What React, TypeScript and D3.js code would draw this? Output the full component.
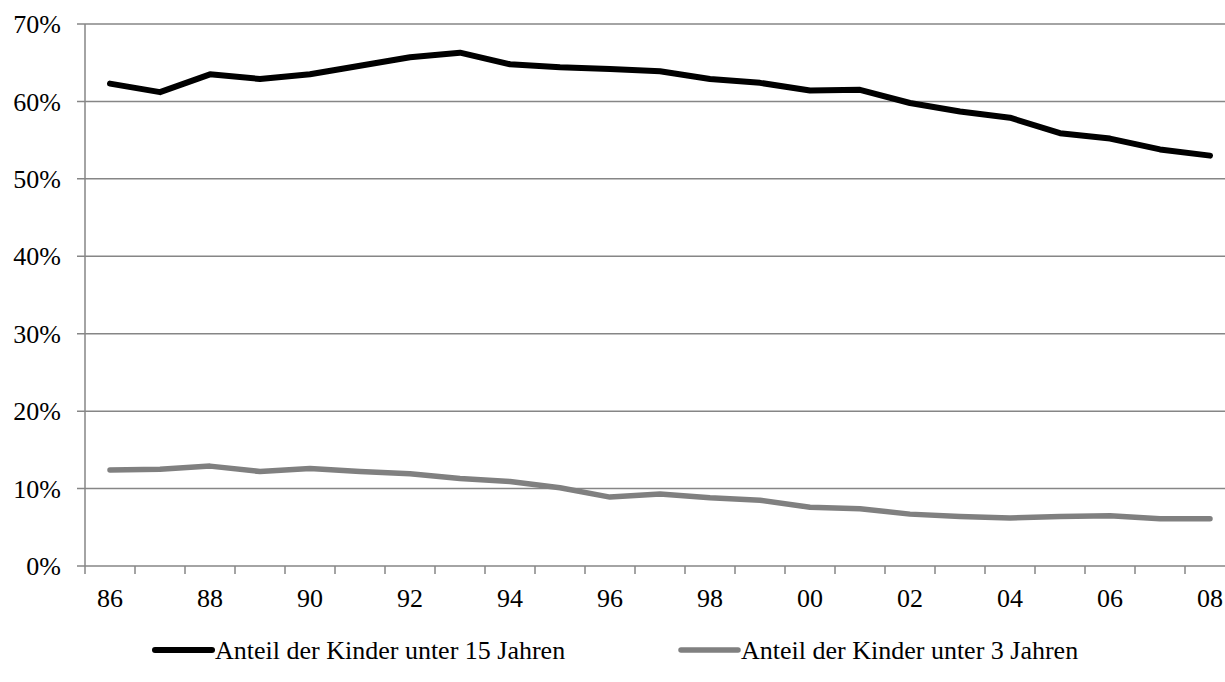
import React from "react";
import * as d3 from "d3";

const years = ["86","87","88","89","90","91","92","93","94","95","96","97","98","99","00","01","02","03","04","05","06","07","08"];
const under15 = [62.3, 61.2, 63.5, 62.9, 63.5, 64.6, 65.7, 66.3, 64.8, 64.4, 64.2, 63.9, 62.9, 62.4, 61.4, 61.5, 59.8, 58.7, 57.9, 55.9, 55.2, 53.8, 53.0];
const under3 = [12.4, 12.5, 12.9, 12.2, 12.6, 12.2, 11.9, 11.3, 10.9, 10.1, 8.9, 9.3, 8.8, 8.5, 7.6, 7.4, 6.7, 6.4, 6.2, 6.4, 6.5, 6.1, 6.1];
const yTicks = [0, 10, 20, 30, 40, 50, 60, 70];
const xLabels = ["86","88","90","92","94","96","98","00","02","04","06","08"];
const seriesNames = ["Anteil der Kinder unter 15 Jahren", "Anteil der Kinder unter 3 Jahren"];

const W = 1225, H = 682;
const L = 85, R = 1235, T = 24, B = 566;
const FONT = '"Liberation Serif", "Times New Roman", serif';
const GRID = "#868686";
const FS = 26;

export default function App() {
  const x = d3.scaleBand<string>().domain(years).range([L, R]).padding(0);
  const y = d3.scaleLinear().domain([0, 70]).range([B, T]);
  const cx = (yr: string) => (x(yr) as number) + x.bandwidth() / 2;
  const line = d3.line<number>().x((_, i) => cx(years[i])).y(v => y(v));

  const series = [
    { name: seriesNames[0], values: under15, color: "#000000", width: 6 },
    { name: seriesNames[1], values: under3, color: "#808080", width: 5.5 },
  ];
  const legendX = [155, 681];

  return (
    <svg width={W} height={H} style={{ position: "absolute", left: 0, top: 0, background: "#fff", fontFamily: FONT }}>
      {yTicks.map(t => (
        <g key={t}>
          <line x1={L - 8} x2={R} y1={y(t)} y2={y(t)} stroke={GRID} strokeWidth={1.5} />
          <text x={61} y={y(t)} dy="0.35em" textAnchor="end" fontSize={FS} fill="#000" style={{ fontFamily: FONT }}>{t}%</text>
        </g>
      ))}
      <line x1={L} x2={L} y1={T} y2={B} stroke={GRID} strokeWidth={1.5} />
      {years.map(yr => (
        <line key={yr} x1={x(yr) as number} x2={x(yr) as number} y1={B} y2={B + 8} stroke={GRID} strokeWidth={1.5} />
      ))}
      {xLabels.map(lb => (
        <text key={lb} x={cx(lb)} y={607} textAnchor="middle" fontSize={FS} fill="#000" style={{ fontFamily: FONT }}>{lb}</text>
      ))}
      {series.map(s => (
        <path key={s.name} d={line(s.values) as string} fill="none" stroke={s.color} strokeWidth={s.width} strokeLinejoin="round" strokeLinecap="round" />
      ))}
      {series.map((s, i) => (
        <g key={s.name} transform={`translate(${legendX[i]},650)`}>
          <line x1={0} x2={57} y1={0} y2={0} stroke={s.color} strokeWidth={s.width} strokeLinecap="round" />
          <text x={60} y={0} dy="0.35em" fontSize={FS} fill="#000" style={{ fontFamily: FONT }}>{s.name}</text>
        </g>
      ))}
    </svg>
  );
}
